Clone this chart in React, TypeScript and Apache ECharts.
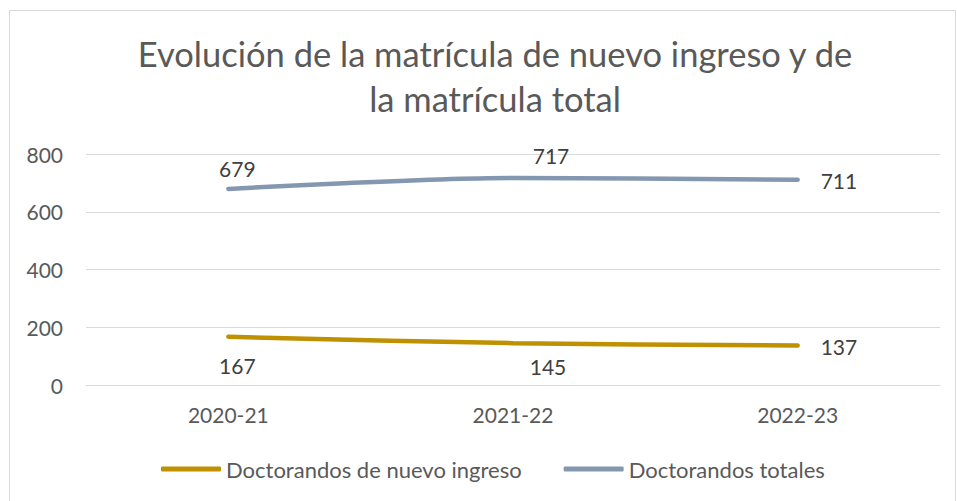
import React, { useEffect, useRef } from "react";
import * as echarts from "echarts";

const categories = ["2020-21", "2021-22", "2022-23"];
const nuevoIngreso = [167, 145, 137];
const totales = [679, 717, 711];
const yTicks = { min: 0, max: 800, interval: 200 };
const seriesNames = ["Doctorandos de nuevo ingreso", "Doctorandos totales"];

const FONT = "Lato, 'Open Sans', sans-serif";
const GOLD = "#BF9000";
const BLUE = "#8497B0";

export default function App() {
  const ref = useRef<HTMLDivElement>(null);
  useEffect(() => {
    if (!ref.current) return;
    const chart = echarts.init(ref.current, undefined, { renderer: "svg" });

    const lbl = (position: string, distance: number, offset: number[]) => ({
      show: true,
      position,
      distance,
      offset,
      fontSize: 21,
      fontFamily: FONT,
      color: "#404040",
    });
    const lowLabels = [lbl("bottom", 18, [9, 0]), lbl("bottom", 13, [35, 0]), lbl("right", 23, [0, 1])];
    const topLabels = [lbl("top", 10, [9, 0]), lbl("top", 12, [38, 0]), lbl("right", 23, [0, 1])];

    chart.setOption({
      animation: false,
      backgroundColor: "#ffffff",
      title: {
        text: "Evolución de la matrícula de nuevo ingreso y de\nla matrícula total",
        left: 490,
        top: 26,
        textAlign: "center",
        textStyle: {
          fontFamily: FONT,
          fontSize: 34.5,
          fontWeight: "normal",
          color: "#595959",
          lineHeight: 45,
        },
      },
      graphic: [
        {
          type: "rect",
          shape: { x: 9.5, y: 10.5, width: 946, height: 492 },
          style: { fill: "none", stroke: "#d9d9d9", lineWidth: 1 },
          silent: true,
        },
      ],
      legend: {
        left: 156,
        top: 453,
        itemGap: 42,
        itemWidth: 60,
        itemHeight: 5,
        icon: "roundRect",
        textStyle: { fontFamily: FONT, fontSize: 22, color: "#595959" },
        data: seriesNames,
      },
      grid: { left: 86, right: 17, top: 154, bottom: 116 },
      xAxis: {
        type: "category",
        data: categories,
        boundaryGap: true,
        axisLine: { lineStyle: { color: "#d9d9d9", width: 1 } },
        axisTick: { show: false },
        axisLabel: { fontFamily: FONT, fontSize: 21, color: "#595959", margin: 19 },
      },
      yAxis: {
        type: "value",
        min: yTicks.min,
        max: yTicks.max,
        interval: yTicks.interval,
        axisLine: { show: false },
        axisTick: { show: false },
        splitLine: { lineStyle: { color: "#d9d9d9", width: 1 } },
        axisLabel: { fontFamily: FONT, fontSize: 21, color: "#595959", margin: 23 },
      },
      series: [
        {
          name: seriesNames[0],
          type: "line",
          smooth: 0.3,
          symbol: "circle",
          symbolSize: 0,
          showSymbol: true,
          lineStyle: { color: GOLD, width: 4.5, cap: "round" },
          itemStyle: { color: GOLD },
          data: nuevoIngreso.map((v, i) => ({ value: v, label: lowLabels[i] })),
        },
        {
          name: seriesNames[1],
          type: "line",
          smooth: 0.3,
          symbol: "circle",
          symbolSize: 0,
          showSymbol: true,
          lineStyle: { color: BLUE, width: 4.5, cap: "round" },
          itemStyle: { color: BLUE },
          data: totales.map((v, i) => ({ value: v, label: topLabels[i] })),
        },
      ],
    });
    return () => chart.dispose();
  }, []);
  return (
    <div
      ref={ref}
      style={{ position: "absolute", left: 0, top: 0, width: 957, height: 501 }}
    />
  );
}
